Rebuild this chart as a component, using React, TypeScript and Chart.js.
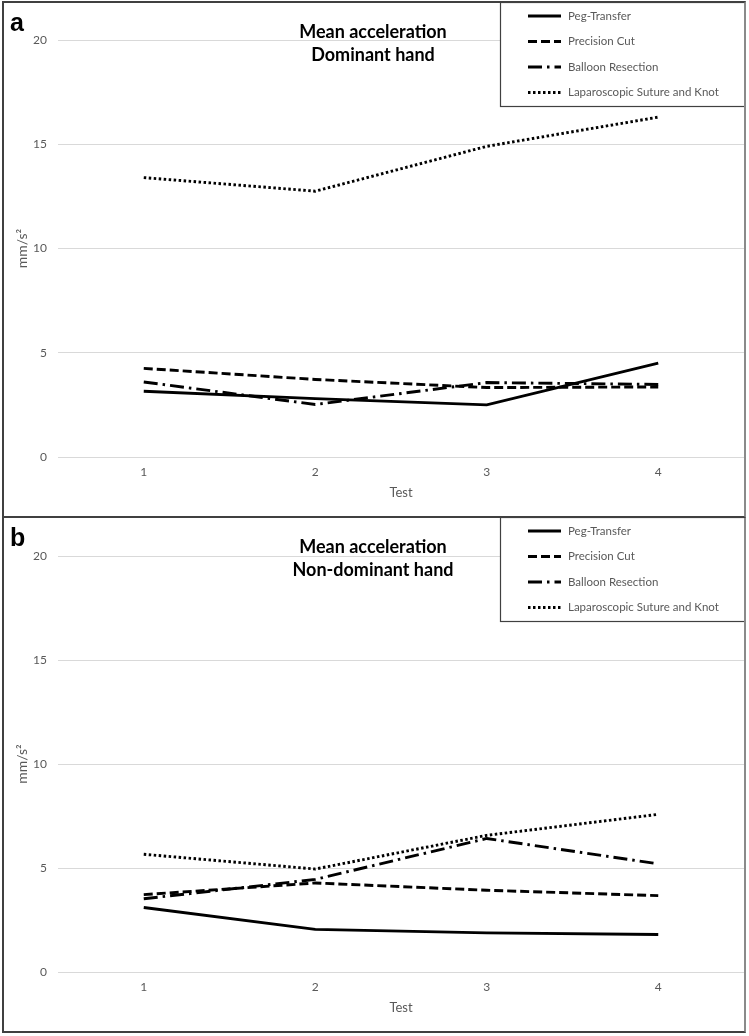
import React, { useEffect, useRef } from 'react';
import { Chart, registerables } from 'chart.js';

Chart.register(...registerables);

// ---- data ----
const tests = ['1', '2', '3', '4'];
const seriesNames = ['Peg-Transfer', 'Precision Cut', 'Balloon Resection', 'Laparoscopic Suture and Knot'];

const domPeg = [3.15, 2.8, 2.5, 4.5];
const domPrecision = [4.25, 3.72, 3.33, 3.36];
const domBalloon = [3.6, 2.52, 3.57, 3.48];
const domSuture = [13.4, 12.75, 14.9, 16.3];

const nonPeg = [3.1, 2.05, 1.88, 1.8];
const nonPrecision = [3.72, 4.28, 3.93, 3.67];
const nonBalloon = [3.52, 4.45, 6.42, 5.2];
const nonSuture = [5.66, 4.95, 6.57, 7.58];

const titleDominant = ['Mean acceleration', 'Dominant hand'];
const titleNonDominant = ['Mean acceleration', 'Non-dominant hand'];
const yAxisTitle = 'mm/s²';
const xAxisTitle = 'Test';

// ---- styles ----
const FONT = 'Lato, "Open Sans", "DejaVu Sans", sans-serif';
const GREY_TEXT = '#595959';
const dashStyles: number[][] = [[], [9, 4], [14, 5, 2.5, 5], [2.5, 2.5]];
const LINE_W = 2.9;

const overlayPlugin = {
  id: 'panelOverlay',
  afterDraw(chart: any, _args: any, opts: any) {
    const ctx = chart.ctx as CanvasRenderingContext2D;
    ctx.save();
    // panel letter
    ctx.fillStyle = '#000';
    ctx.font = `bold 25px "Liberation Sans", Arial, sans-serif`;
    ctx.textAlign = 'left';
    ctx.textBaseline = 'alphabetic';
    ctx.fillText(opts.letter, 6, 28);
    // title
    ctx.font = `bold 18px ${FONT}`;
    ctx.textAlign = 'center';
    ctx.textBaseline = 'middle';
    (opts.title as string[]).forEach((t, i) => ctx.fillText(t, 369, 29 + i * 23));
    // legend box
    const bx = 496, by = -1, bw = 250, bh = 104;
    ctx.fillStyle = '#fff';
    ctx.fillRect(bx, by, bw, bh);
    ctx.strokeStyle = '#404040';
    ctx.lineWidth = 1.2;
    ctx.strokeRect(bx + 0.5, by + 0.5, bw, bh);
    chart.data.datasets.forEach((ds: any, i: number) => {
      const y = 13 + i * 25.5;
      ctx.beginPath();
      ctx.setLineDash(ds.borderDash || []);
      ctx.lineWidth = LINE_W;
      ctx.strokeStyle = '#000';
      ctx.moveTo(524, y);
      ctx.lineTo(557, y);
      ctx.stroke();
      ctx.setLineDash([]);
      ctx.fillStyle = GREY_TEXT;
      ctx.font = `11.5px ${FONT}`;
      ctx.textAlign = 'left';
      ctx.textBaseline = 'middle';
      ctx.fillText(ds.label, 564, y);
    });
    ctx.restore();
  },
};

type PanelProps = {
  letter: string;
  title: string[];
  series: number[][];
  topPad: number;
};

function Panel({ letter, title, series, topPad }: PanelProps) {
  const ref = useRef<HTMLCanvasElement>(null);
  useEffect(() => {
    if (!ref.current) return;
    const chart = new Chart(ref.current, {
      type: 'line',
      data: {
        labels: tests,
        datasets: series.map((vals, i) => ({
          label: seriesNames[i],
          data: vals,
          borderColor: '#000',
          backgroundColor: '#000',
          borderWidth: LINE_W,
          borderDash: dashStyles[i],
          pointRadius: 0,
          tension: 0,
          fill: false,
        })),
      },
      options: {
        animation: false,
        responsive: false,
        maintainAspectRatio: false,
        layout: { padding: { top: topPad, right: 0, bottom: 0, left: 0 } },
        plugins: {
          legend: { display: false },
          title: { display: false },
          tooltip: { enabled: false },
          panelOverlay: { letter, title },
        } as any,
        scales: {
          x: {
            offset: true,
            grid: { display: false, drawTicks: false },
            border: { display: false },
            ticks: { color: GREY_TEXT, font: { family: FONT, size: 12 }, padding: 8 },
            title: {
              display: true,
              text: xAxisTitle,
              color: GREY_TEXT,
              font: { family: FONT, size: 13 },
              padding: { top: 0, bottom: 15 },
            },
            afterFit: (s: any) => { s.height = 59; },
          },
          y: {
            min: 0,
            max: 20,
            ticks: { stepSize: 5, color: GREY_TEXT, font: { family: FONT, size: 12 }, padding: 11 },
            grid: { color: '#d9d9d9', lineWidth: 1, drawTicks: false },
            border: { display: false },
            title: {
              display: true,
              text: yAxisTitle,
              color: GREY_TEXT,
              font: { family: FONT, size: 14 },
              padding: { top: 10, bottom: 0 },
            },
            afterFit: (s: any) => { s.width = 54; },
          },
        },
      },
      plugins: [overlayPlugin],
    });
    return () => chart.destroy();
  }, []);
  return <canvas ref={ref} width={740} height={513} style={{ display: 'block', width: 740, height: 513 }} />;
}

export default function App() {
  return (
    <div style={{ position: 'absolute', left: 0, top: 0, width: 749, height: 1036, background: '#fff' }}>
      <div
        style={{
          position: 'absolute', left: 2, top: 1, width: 744, height: 517, boxSizing: 'border-box',
          borderStyle: 'solid', borderColor: '#404040 #8a8a8a #404040 #404040', borderWidth: 2,
        }}
      >
        <Panel letter="a" title={titleDominant} series={[domPeg, domPrecision, domBalloon, domSuture]} topPad={37} />
      </div>
      <div
        style={{
          position: 'absolute', left: 2, top: 518, width: 744, height: 515, boxSizing: 'border-box',
          borderStyle: 'solid', borderColor: '#404040 #8a8a8a #404040 #404040', borderWidth: '0 2px 2px 2px',
        }}
      >
        <Panel letter="b" title={titleNonDominant} series={[nonPeg, nonPrecision, nonBalloon, nonSuture]} topPad={38} />
      </div>
    </div>
  );
}
